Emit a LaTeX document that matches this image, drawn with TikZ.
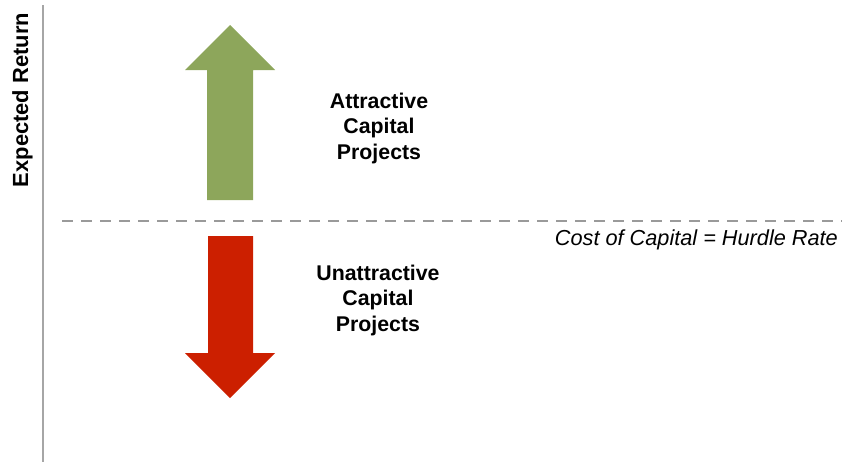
\documentclass[tikz,border=0pt]{standalone}
\usepackage{fontspec}
\setmainfont{Liberation Sans}
\definecolor{upgreen}{HTML}{8DA65B}
\definecolor{downred}{HTML}{CC1F00}
\definecolor{axisgray}{HTML}{A6A6A6}
\definecolor{dashgray}{HTML}{9A9A9A}
\tikzset{
  lbl/.style={font=\bfseries\fontsize{21.3}{25.5}\selectfont, align=center, text=black, inner sep=0pt},
  axisline/.style={draw=axisgray, line width=1.6pt},
  hurdle/.style={draw=dashgray, line width=2.2pt, dash pattern=on 11pt off 8pt},
}
\begin{document}
\begin{tikzpicture}[x=1pt,y=-1pt]
\useasboundingbox (0,0) rectangle (842,463);
% axis
\coordinate (axtop) at (43,5);
\coordinate (axbot) at (43,462);
\draw[axisline] (axtop) -- (axbot);
\node[font=\bfseries\fontsize{21.9}{24}\selectfont, rotate=90, inner sep=0pt] (ylab) at (22.5,100) {Expected Return};
% hurdle line
\coordinate (hl) at (62,221);
\coordinate (hr) at (842,221);
\draw[hurdle] (hl) -- (hr);
\node[font=\itshape\fontsize{21.7}{24}\selectfont, anchor=east, inner sep=0pt] (hrate) at (838,240) {Cost of Capital = Hurdle Rate};
% green arrow
\fill[upgreen] (230,25) -- (275,70) -- (253,70) -- (253,200) -- (207,200) -- (207,70) -- (185,70) -- cycle;
% red arrow
\fill[downred] (230,398) -- (275,353) -- (253,353) -- (253,236) -- (208,236) -- (208,353) -- (185,353) -- cycle;
% labels
\node[lbl] (attr) at (379,128) {Attractive\\Capital\\Projects};
\node[lbl] (unattr) at (378,300) {Unattractive\\Capital\\Projects};
\end{tikzpicture}
\end{document}
